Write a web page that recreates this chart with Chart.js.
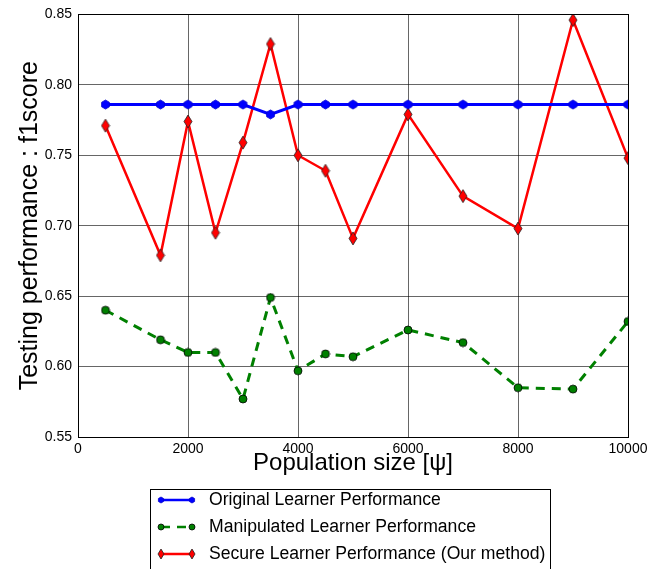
<!DOCTYPE html>
<html>
<head>
<meta charset="utf-8">
<script src="https://cdn.jsdelivr.net/npm/chart.js@4/dist/chart.umd.min.js"></script>
<style>
  html, body { margin: 0; padding: 0; background: #fff; }
  #wrap { width: 662px; height: 569px; }
</style>
</head>
<body>
<div id="wrap"><canvas id="f1Chart" width="662" height="569"></canvas></div>
<script>
const populationSizes = [500, 1500, 2000, 2500, 3000, 3500, 4000, 4500, 5000, 6000, 7000, 8000, 9000, 10000];
const originalF1    = [0.786, 0.786, 0.786, 0.786, 0.786, 0.779, 0.786, 0.786, 0.786, 0.786, 0.786, 0.786, 0.786, 0.786];
const manipulatedF1 = [0.640, 0.619, 0.610, 0.610, 0.577, 0.649, 0.597, 0.609, 0.607, 0.626, 0.617, 0.585, 0.584, 0.632];
const secureF1      = [0.771, 0.679, 0.774, 0.695, 0.759, 0.829, 0.750, 0.739, 0.691, 0.779, 0.721, 0.698, 0.846, 0.748];
const seriesNames = [
  'Original Learner Performance',
  'Manipulated Learner Performance',
  'Secure Learner Performance (Our method)'
];

// little canvases used as point markers
function marker(shape, fill, edge, w, h) {
  const c = document.createElement('canvas');
  c.width = w + 2; c.height = h + 2;
  const g = c.getContext('2d');
  const cx = c.width / 2, cy = c.height / 2;
  g.beginPath();
  if (shape === 'diamond') {
    g.moveTo(cx, cy - h / 2); g.lineTo(cx + w / 2, cy);
    g.lineTo(cx, cy + h / 2); g.lineTo(cx - w / 2, cy);
  } else if (shape === 'hex') {
    for (let i = 0; i < 6; i++) {
      const a = Math.PI / 6 + i * Math.PI / 3;
      g.lineTo(cx + Math.cos(a) * w / 2, cy + Math.sin(a) * h / 2);
    }
  } else {
    g.arc(cx, cy, w / 2, 0, Math.PI * 2);
  }
  g.closePath();
  g.fillStyle = fill; g.fill();
  g.lineWidth = 0.8; g.strokeStyle = edge; g.stroke();
  return c;
}

const blueMark  = marker('hex', '#0000ff', '#0000cc', 9, 9);
const greenMark = marker('circle', '#008000', '#000', 8, 8);
const redMark   = marker('diamond', '#ff0000', '#222', 8, 13);
const legendMarks = [
  marker('hex', '#0000ff', '#0000cc', 6, 6),
  marker('circle', '#008000', '#000', 6, 6),
  marker('diamond', '#ff0000', '#222', 6, 10)
];

const toPts = ys => ys.map((y, i) => ({ x: populationSizes[i], y }));

const frameAndLegend = {
  id: 'frameAndLegend',
  afterDraw(chart) {
    const { ctx, chartArea: a } = chart;
    ctx.save();
    ctx.strokeStyle = '#000';
    ctx.lineWidth = 1;
    ctx.strokeRect(Math.round(a.left) + 0.5, Math.round(a.top) + 0.5,
                   Math.round(a.right - a.left), Math.round(a.bottom - a.top));

    // legend box below the axis
    ctx.strokeRect(150.5, 489.5, 400, 100);
    const styles = [
      { color: '#0000ff', dash: [] },
      { color: '#008000', dash: [9, 7] },
      { color: '#ff0000', dash: [] }
    ];
    ctx.font = '17.6px "Liberation Sans", Arial, sans-serif';
    ctx.textBaseline = 'middle';
    ctx.fillStyle = '#000';
    seriesNames.forEach((name, i) => {
      const y = 500 + i * 27;
      ctx.beginPath();
      ctx.setLineDash(styles[i].dash);
      ctx.strokeStyle = styles[i].color;
      ctx.lineWidth = 2.5;
      ctx.moveTo(161, y); ctx.lineTo(192, y);
      ctx.stroke();
      ctx.setLineDash([]);
      const m = legendMarks[i];
      ctx.drawImage(m, 161 - m.width / 2, y - m.height / 2);
      ctx.drawImage(m, 192 - m.width / 2, y - m.height / 2);
      ctx.fillText(name, 209, y);
    });
    ctx.restore();
  }
};

new Chart(document.getElementById('f1Chart'), {
  type: 'line',
  data: {
    datasets: [
      {
        label: seriesNames[0],
        data: toPts(originalF1),
        borderColor: '#0000ff',
        borderWidth: 3,
        pointStyle: blueMark,
        pointRadius: 5,
        tension: 0
      },
      {
        label: seriesNames[1],
        data: toPts(manipulatedF1),
        borderColor: '#008000',
        borderWidth: 3,
        borderDash: [9, 7],
        pointStyle: greenMark,
        pointRadius: 5,
        tension: 0
      },
      {
        label: seriesNames[2],
        data: toPts(secureF1),
        borderColor: '#ff0000',
        borderWidth: 2.5,
        pointStyle: redMark,
        pointRadius: 6,
        tension: 0
      }
    ]
  },
  options: {
    responsive: false,
    animation: false,
    devicePixelRatio: 1,
    layout: { padding: { left: 0, right: 34, top: 12, bottom: 80 } },
    plugins: {
      legend: { display: false },
      tooltip: { enabled: false }
    },
    scales: {
      x: {
        type: 'linear',
        min: 0,
        max: 10000,
        afterFit: s => { s.height = 52; },
        ticks: {
          stepSize: 2000,
          padding: 4,
          maxRotation: 0,
          color: '#000',
          callback: v => String(v),
          font: { family: '"Liberation Sans", Arial, sans-serif', size: 14 }
        },
        grid: { color: 'rgba(0,0,0,0.6)', lineWidth: 1, drawTicks: false },
        border: { display: false },
        title: {
          display: true,
          text: 'Population size [ψ]',
          color: '#000',
          font: { family: '"Liberation Sans", Arial, sans-serif', size: 24 },
          padding: { top: 0, bottom: 11 }
        }
      },
      y: {
        min: 0.55,
        max: 0.85,
        afterFit: s => { s.width = 78; },
        ticks: {
          stepSize: 0.05,
          padding: 6,
          color: '#000',
          callback: v => v.toFixed(2),
          font: { family: '"Liberation Sans", Arial, sans-serif', size: 14 }
        },
        grid: { color: 'rgba(0,0,0,0.6)', lineWidth: 1, drawTicks: false },
        border: { display: false },
        title: {
          display: true,
          text: 'Testing performance : f1score',
          color: '#000',
          font: { family: '"Liberation Sans", Arial, sans-serif', size: 25 },
          padding: { top: 15, bottom: 0 }
        }
      }
    }
  },
  plugins: [frameAndLegend]
});
</script>
</body>
</html>
